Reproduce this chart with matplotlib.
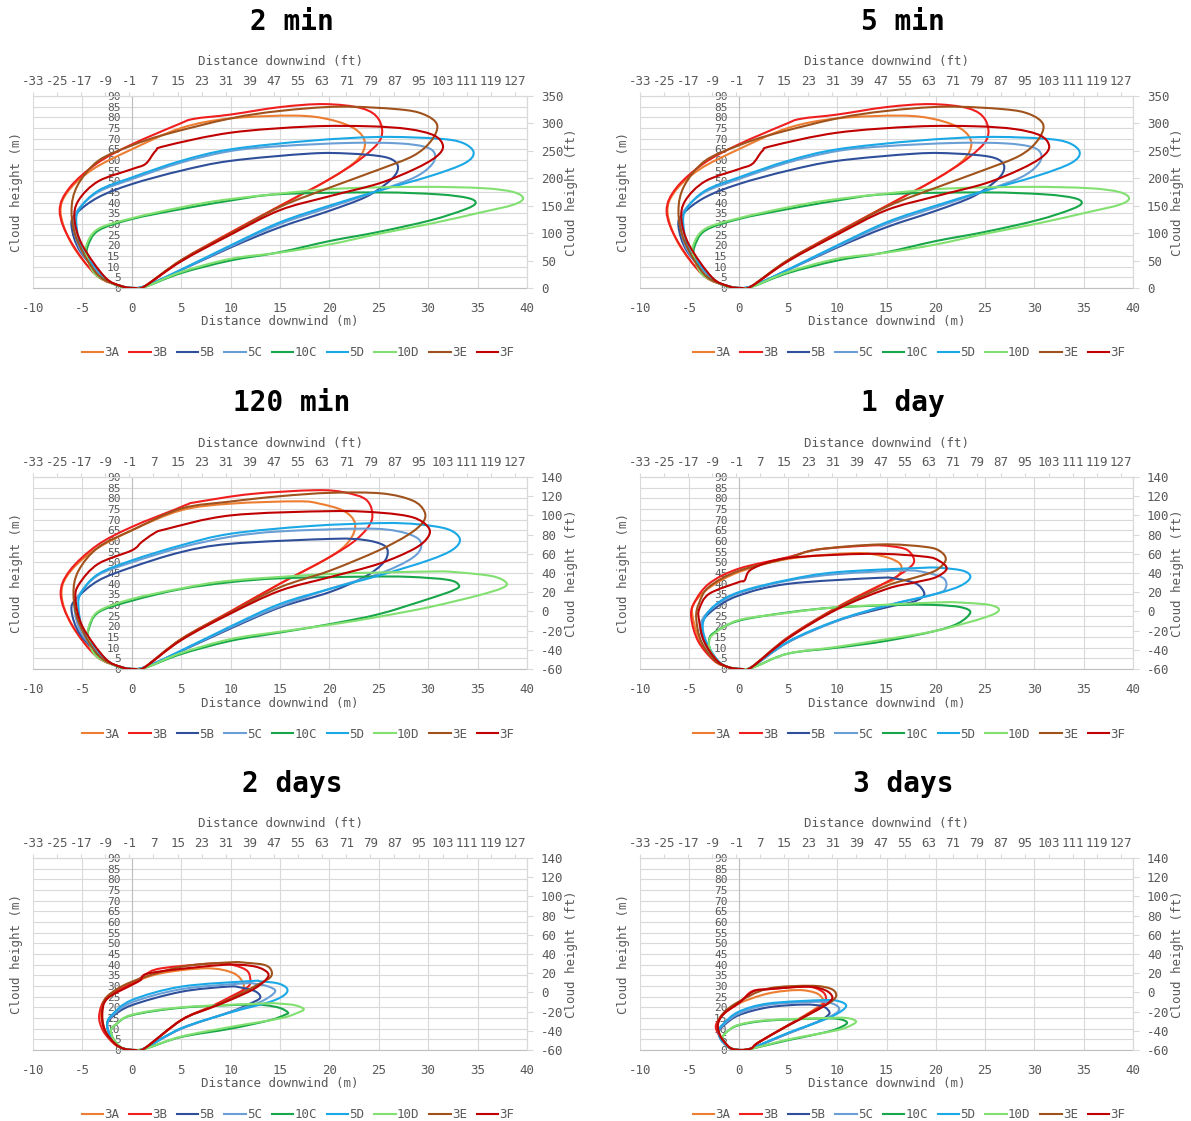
"""
Cloud outline (height vs distance downwind) for 9 release cases at 6 times.
Each case is a closed loop read off the reference; drawn as a smoothed path.
Output: out.png
"""

import matplotlib
matplotlib.use("Agg")
import matplotlib.pyplot as plt
import numpy as np
from matplotlib.lines import Line2D
from matplotlib.patches import PathPatch
from matplotlib.path import Path

plt.rcParams["axes.unicode_minus"] = False

FIG_W, FIG_H = 1191, 1121
FONT = ["DejaVu Sans Mono"]
GRAY = "#595959"
GRID = "#d9d9d9"

SERIES = ["3A", "3B", "5B", "5C", "10C", "5D", "10D", "3E", "3F"]
COLORS = ["#ed7d31", "#f01e1e", "#2f4f9a", "#6a9fd6", "#17a64a",
          "#1aa8e6", "#82e070", "#a0521c", "#c00000"]

X_TICKS_M = [-10, -5, 0, 5, 10, 15, 20, 25, 30, 35, 40]
Y_TICKS_M = [0, 5, 10, 15, 20, 25, 30, 35, 40, 45, 50, 55, 60, 65, 70, 75, 80, 85, 90]
# eje superior (ft) con escala propia, como en Excel: -33 a 131 sobre el ancho del grafico
FT_LIM = (-33, 131)
X_TICKS_FT = [-33, -25, -17, -9, -1, 7, 15, 23, 31, 39, 47, 55, 63, 71, 79, 87,
              95, 103, 111, 119, 127]
Y_TICKS_FT_A = [0, 50, 100, 150, 200, 250, 300, 350]
Y_TICKS_FT_B = [-60, -40, -20, 0, 20, 40, 60, 80, 100, 120, 140]

# ── contornos (x m, y m) ─────────────────────────────────────────────────────
LOOPS_2MIN = {
    "3A": [(0.3, 0), (1.3, 0.8), (5, 13), (10, 26), (15, 38.5), (20, 51), (22.8, 60), (23.6, 68),
           (22.6, 74.5), (20, 79), (16.5, 80.8), (10, 79.5), (5, 75), (0, 65), (-4, 55.5),
           (-6.5, 45), (-7.2, 35), (-6, 20), (-3.5, 6), (-1, 0.8)],
    "3B": [(0.3, 0), (1.3, 0.8), (5, 13), (10, 26), (15, 38.5), (20, 51), (23.3, 61), (25.2, 70),
           (25, 79), (23.3, 84.2), (19.5, 86.2), (15, 84.8), (10, 81.3), (6.3, 79.3), (4.7, 76.7),
           (0, 67.3), (-3.5, 58.5), (-6.3, 47), (-7.3, 36), (-6.2, 22), (-3.6, 6), (-1, 0.8)],
    "5B": [(0.3, 0), (1.3, 0.8), (3.4, 5), (10, 19), (15, 28.5), (20, 36.2), (23.6, 42.5),
           (25.7, 48.7), (26.8, 54), (26.8, 58.5), (25.5, 61.5), (22, 63), (18, 63), (10, 59.6),
           (5, 55), (0, 48.7), (-3.4, 42.5), (-5.6, 35), (-6.1, 29), (-5.2, 17), (-2.6, 4),
           (-1, 0.8)],
    "5C": [(0.3, 0), (1.3, 0.8), (3.4, 5), (10, 19.5), (15, 30), (20, 37.8), (25, 45.6),
           (28.6, 51.8), (30.3, 57.5), (30.7, 62.5), (29.8, 66), (27, 67.8), (22, 68), (15, 66.5),
           (10, 64.2), (5, 58.8), (0, 51), (-3.4, 45), (-5.4, 37), (-5.9, 30), (-5.1, 17),
           (-2.6, 4), (-1, 0.8)],
    "10C": [(0.3, 0), (1.5, 0.8), (5, 7), (10, 12.9), (15, 16.8), (20, 22), (25, 26.3),
            (30.3, 31.8), (33.7, 36.8), (34.8, 39.8), (34, 42.2), (31, 43.9), (25, 44.8),
            (15, 44), (10, 41), (5, 37), (0, 32.3), (-3.4, 26.9), (-4.5, 19), (-4.4, 14),
            (-3.6, 6.5), (-1.3, 1)],
    "5D": [(0.3, 0), (1.3, 0.8), (3.4, 5), (10, 20), (15, 30.8), (20, 38.6), (25, 45.6),
           (30.3, 52.6), (33.7, 58.5), (34.6, 63.5), (33.5, 68), (31, 70), (25, 70.8), (18, 69),
           (10, 65), (5, 59.6), (0, 51.8), (-3.4, 45.6), (-5.3, 37), (-5.6, 29.5), (-4.9, 17),
           (-2.5, 4), (-1, 0.8)],
    "10D": [(0.3, 0), (1.5, 0.8), (5, 7.5), (10, 13.7), (15, 16.6), (20, 20.4), (25, 25.4),
            (30.3, 30.2), (35.4, 35.5), (38.6, 39), (39.6, 42), (38.6, 45), (35.5, 46.8),
            (29, 47.4), (20, 46.3), (10, 41.7), (5, 37.8), (0, 32.7), (-3.4, 27.7), (-4.6, 20),
            (-4.5, 14), (-3.6, 6), (-1.3, 1)],
    "3E": [(0.3, 0), (1.3, 0.8), (5, 13), (10, 25.5), (15, 38), (20, 47), (25, 55.5), (28.5, 62),
           (30.3, 69), (30.9, 76.5), (29.5, 81.5), (26.9, 83.8), (21, 85), (15, 83), (10, 79.5),
           (3.4, 72), (0, 66.8), (-3.4, 59.6), (-5.5, 48), (-6.1, 36), (-5.5, 22), (-3.4, 6),
           (-1, 0.8)],
    "3F": [(0.3, 0), (1.3, 0.8), (5, 12.5), (10, 25), (15, 36.5), (20, 43), (25, 49), (28.6, 55.7),
           (30.8, 61.5), (31.5, 66.5), (30.6, 71.5), (28, 74.5), (24, 75.8), (18, 75.7),
           (10, 72.8), (3.4, 66.6), (2.4, 64.2), (1.4, 58.2), (0, 55.7), (-3.4, 50), (-5.4, 41),
           (-5.8, 32), (-5, 20), (-2.7, 5), (-1, 0.8)],
}

# el panel de 5 min se lee igual que el de 2 min
LOOPS_5MIN = LOOPS_2MIN

LOOPS_120MIN = {
    "3A": [(0.3, 0), (1.3, 0.8), (5, 14), (10, 27), (15, 40), (20, 52.4), (22, 60), (22.6, 68),
           (21.5, 74), (19, 77.5), (16.8, 78.6), (10, 77.5), (5, 74.4), (0, 65), (-4, 55),
           (-6.5, 44), (-7.1, 34), (-6, 20), (-3.5, 6), (-1, 0.8)],
    "3B": [(0.3, 0), (1.3, 0.8), (5, 14), (10, 27), (15, 40), (20, 52.4), (22.8, 61), (24.3, 70),
           (23.8, 79), (21.5, 82.8), (18.5, 83.8), (12, 82), (6.5, 78.2), (5.7, 77.3), (4.5, 75),
           (0, 66.6), (-3.5, 58), (-6.3, 46), (-7.2, 35), (-6.1, 21), (-3.6, 6), (-1, 0.8)],
    "5B": [(0.3, 0), (1.3, 0.8), (3.4, 5), (10, 19), (15, 28.9), (20, 36), (23.5, 43), (25.3, 49),
           (25.9, 54), (25.5, 58), (23.5, 60.5), (20.2, 61), (10, 58.7), (5, 54.8), (0, 47.7),
           (-3.4, 41.4), (-5.6, 33), (-6.1, 27.3), (-5.2, 16), (-2.6, 4), (-1, 0.8)],
    "5C": [(0.3, 0), (1.3, 0.8), (3.4, 5), (10, 19.5), (15, 29.5), (20, 37.5), (25, 44.6),
           (28, 50.9), (29.2, 56), (29, 61), (27, 64.5), (23.6, 65.8), (15, 64.5), (10, 62),
           (5, 57), (0, 50), (-3.4, 44), (-5.3, 35), (-5.8, 28.5), (-5, 16), (-2.5, 4), (-1, 0.8)],
    "10C": [(0.3, 0), (1.5, 0.8), (5, 7), (10, 13.2), (15, 17.1), (20, 21), (25, 25.7), (30, 32.8),
            (32.6, 37), (33.1, 39.3), (32, 41.8), (28, 43.2), (23.6, 43.3), (15, 42.5),
            (10, 40.7), (5, 37.5), (0, 32), (-3.4, 26.5), (-4.4, 18), (-4.3, 13.5), (-3.5, 6),
            (-1.3, 1)],
    "5D": [(0.3, 0), (1.3, 0.8), (3.4, 5), (10, 20), (15, 30.5), (20, 37.5), (25, 43.8), (30, 50.9),
           (32.5, 56), (33.2, 61), (32, 65.5), (29, 67.8), (25.3, 68.4), (18, 67), (10, 63.4),
           (5, 58), (0, 50.9), (-3.4, 44.5), (-5.1, 36), (-5.4, 28.9), (-4.8, 17), (-2.5, 4),
           (-1, 0.8)],
    "10D": [(0.3, 0), (1.5, 0.8), (5, 7.5), (10, 14), (15, 17.5), (20, 20.7), (25, 24.5),
            (30, 28.9), (35, 34.4), (37.5, 38), (37.9, 40.5), (36.5, 43.5), (33, 45.3),
            (30.3, 45.7), (20, 44.5), (10, 41.4), (5, 37.8), (0, 32.8), (-3.4, 27), (-4.4, 19),
            (-4.3, 13), (-3.6, 6), (-1.3, 1)],
    "3E": [(0.3, 0), (1.3, 0.8), (5, 14), (10, 26.5), (15, 38.3), (20, 46), (25, 55.6), (28, 63),
           (29.5, 69), (29.6, 74), (28.4, 79), (25.3, 82.3), (20.2, 82.6), (15, 81), (10, 78.5),
           (5, 75.2), (0, 65), (-3.4, 57), (-5.4, 46), (-5.9, 35), (-5.3, 21), (-3.3, 6),
           (-1, 0.8)],
    "3F": [(0.3, 0), (1.3, 0.8), (5, 13.5), (10, 26), (15, 36.7), (20, 43), (25, 49.3),
           (28.6, 56.4), (30, 62), (30, 66.5), (28.5, 71), (25.3, 73.2), (20.2, 74), (10, 72),
           (3.4, 65.5), (2.2, 63.4), (1, 59.5), (0, 55.6), (-3.4, 49.3), (-5.3, 40), (-5.7, 33),
           (-5, 20), (-2.7, 5), (-1, 0.8)],
}

LOOPS_1DAY = {
    "3A": [(0.3, 0), (1.3, 0.8), (5, 14.8), (10, 28.9), (14, 38.5), (15.8, 42), (16.5, 46.5),
           (16.2, 50), (14.5, 53), (11.7, 54.3), (5, 51.6), (0, 45.4), (-3, 38), (-4.5, 31),
           (-4.7, 25.7), (-4, 14), (-2.5, 4), (-1, 0.8)],
    "3B": [(0.3, 0), (1.3, 0.8), (5, 14.8), (10, 28.9), (15, 40.7), (17.2, 47), (17.8, 51),
           (17.1, 55.8), (15.5, 57.5), (13.4, 57.9), (8, 56), (5, 52.4), (0, 47), (-3, 40),
           (-4.5, 31), (-4.8, 24), (-4.1, 13), (-2.5, 4), (-1, 0.8)],
    "5B": [(0.3, 0), (1.3, 0.8), (5, 12.5), (10, 22.6), (15, 28.9), (17.5, 31.2), (18.6, 33.5),
           (18.8, 36), (18, 40), (16, 42.3), (14.1, 42.7), (5, 39.9), (0, 34.4), (-2.5, 28),
           (-3.8, 21), (-3.5, 13), (-2.2, 4), (-1, 0.8)],
    "5C": [(0.3, 0), (1.3, 0.8), (5, 12.5), (10, 22.5), (15, 29.7), (20, 35.2), (21, 38),
           (20.8, 42.5), (19, 45.2), (16.8, 46.2), (10, 44.5), (5, 41.4), (0, 35.5), (-2.5, 29),
           (-3.8, 21.8), (-3.4, 13), (-2.2, 4), (-1, 0.8)],
    "10C": [(0.3, 0), (1.5, 0.8), (5, 7.2), (10, 10), (15, 13.2), (20, 17.9), (22.3, 21.5),
            (23.5, 26.5), (22.5, 29), (20, 30), (16.8, 30.1), (10, 28.9), (5, 26.5), (0, 22.6),
            (-2.5, 17), (-3, 13.2), (-2.8, 8), (-2, 3), (-1, 0.8)],
    "5D": [(0.3, 0), (1.3, 0.8), (5, 12.8), (10, 22.8), (15, 29.7), (20, 35.2), (22.5, 39),
           (23.5, 43), (22.8, 46), (20.5, 47.4), (18.5, 47.4), (10, 45.4), (5, 41.8), (0, 36),
           (-2.5, 29.5), (-3.6, 21.8), (-3.3, 13), (-2.1, 4), (-1, 0.8)],
    "10D": [(0.3, 0), (1.5, 0.8), (5, 7.2), (10, 10.4), (15, 14), (20, 17.9), (25, 24.2),
            (26.4, 27.6), (25.5, 30), (23, 31), (20.2, 31.2), (10, 28.9), (5, 26.3), (0, 22.9),
            (-2.5, 16.5), (-3, 12.4), (-2.8, 8), (-2, 3), (-1, 0.8)],
    "3E": [(0.3, 0), (1.3, 0.8), (5, 14.5), (10, 28.5), (15, 39), (18, 43), (20, 46.2), (21, 51),
           (20.5, 55), (19, 57.2), (14.4, 58.4), (8, 56), (5, 52), (0, 46), (-3, 38.5), (-4, 31),
           (-4.3, 24), (-3.8, 13), (-2.4, 4), (-1, 0.8)],
    "3F": [(0.3, 0), (1.3, 0.8), (5, 14.3), (10, 28), (15, 37.5), (18, 40.7), (20, 43),
           (21.1, 47), (20.3, 50.8), (18.8, 52.7), (13.4, 54), (5, 52), (1.4, 47), (0.6, 41.5),
           (0, 40.7), (-3, 35.2), (-4, 28), (-4, 22.6), (-3.5, 13), (-2.2, 4), (-1, 0.8)],
}

LOOPS_2DAYS = {
    "3A": [(0.3, 0), (1.3, 0.8), (5, 14), (8, 20.3), (10, 24.5), (11.1, 27.5), (11.3, 31),
           (10.3, 36), (7.6, 38.3), (3, 36), (0, 31.2), (-2.5, 24), (-3.1, 17.9), (-2.8, 10),
           (-1.8, 3), (-0.8, 0.6)],
    "3B": [(0.3, 0), (1.3, 0.8), (5, 14), (8, 20.3), (10, 25), (11.6, 29), (12, 32), (11.7, 37),
           (10.3, 39.8), (8.6, 40.7), (3, 38.3), (1.4, 35.5), (1, 34.2), (0, 31.2), (-2.5, 25),
           (-3.3, 16.3), (-2.9, 9), (-1.8, 3), (-0.8, 0.6)],
    "5B": [(0.3, 0), (1.3, 0.8), (5, 10), (10, 17.9), (12, 21.8), (13, 24.5), (12.5, 27.5),
           (11, 29.3), (9.7, 29.7), (5, 27.3), (0, 21), (-2, 15.5), (-2.5, 11.6), (-2.2, 7),
           (-1.5, 2.5), (-0.8, 0.6)],
    "5C": [(0.3, 0), (1.3, 0.8), (5, 10), (10, 17.8), (13, 22.5), (14.5, 27.3), (13.8, 29.8),
           (12.5, 31), (11.3, 31.2), (5, 28.5), (0, 22.3), (-2, 16), (-2.5, 12), (-2.2, 7),
           (-1.5, 2.5), (-0.8, 0.6)],
    "10C": [(0.3, 0), (1.5, 0.8), (5, 6.1), (10, 10), (14, 14), (15.5, 16.5), (15.8, 17.6),
            (15, 19.7), (13.5, 21), (11.7, 21.3), (5, 19.8), (0, 16.3), (-1.6, 12), (-2.1, 9.3),
            (-1.9, 5.5), (-1.3, 2), (-0.8, 0.6)],
    "5D": [(0.3, 0), (1.3, 0.8), (5, 10.2), (10, 17.6), (14, 22.6), (15.5, 26), (15.7, 28.9),
           (14.8, 31.2), (13, 32.2), (12, 32.3), (5, 29.7), (0, 23.4), (-2, 16.5), (-2.5, 12.4),
           (-2.2, 7), (-1.5, 2.5), (-0.8, 0.6)],
    "10D": [(0.3, 0), (1.5, 0.8), (5, 6.3), (10, 10.8), (15, 14.8), (16.8, 17.5), (17.4, 19.2),
            (16.5, 21), (15, 21.7), (13.4, 21.8), (5, 20), (0, 16.5), (-1.6, 12), (-2.1, 9.3),
            (-1.9, 5.5), (-1.3, 2), (-0.8, 0.6)],
    "3E": [(0.3, 0), (1.3, 0.8), (5, 14), (8, 20), (10, 24), (12.5, 30), (14, 34), (14.1, 37.5),
           (13.4, 39.9), (11.5, 40.9), (10, 41.1), (5, 39), (0, 32), (-2.5, 25), (-3, 17.9),
           (-2.7, 9), (-1.7, 3), (-0.8, 0.6)],
    "3F": [(0.3, 0), (1.3, 0.8), (5, 14), (8, 19.8), (10, 23.5), (12.5, 29), (13.8, 34.4),
           (13.4, 37.5), (12, 39.5), (9.3, 39.9), (4, 37.5), (1.4, 35.5), (0.9, 32.8), (0, 30.5),
           (-2.5, 24), (-3, 16.3), (-2.7, 9), (-1.7, 3), (-0.8, 0.6)],
}

LOOPS_3DAYS = {
    "3A": [(0.3, 0), (1.3, 0.8), (2, 3.5), (5, 11.6), (7.5, 18.5), (8.5, 22), (8.5, 24.2),
           (7.8, 26.8), (6, 28.1), (3, 26.5), (0, 21.8), (-1.5, 17), (-2.1, 13.2), (-2, 8),
           (-1.4, 3), (-0.7, 0.6)],
    "3B": [(0.3, 0), (1.3, 0.8), (2, 3.5), (5, 11.6), (8, 19.5), (8.8, 23), (8.7, 26.5),
           (7.8, 29), (6.6, 29.7), (3, 28.5), (1.4, 27.6), (0.5, 24), (0, 21.8), (-1.5, 17),
           (-2.3, 11.6), (-2, 7), (-1.4, 3), (-0.7, 0.6)],
    "5B": [(0.3, 0), (1.3, 0.8), (5, 7.7), (8, 13.2), (9, 16), (9.2, 17.9), (8.5, 20.5),
           (6.6, 21.3), (3, 20), (0, 16.3), (-1.5, 11.5), (-2, 8.5), (-1.8, 5), (-1.2, 2),
           (-0.7, 0.6)],
    "5C": [(0.3, 0), (1.3, 0.8), (5, 7.8), (8, 13), (9.8, 17), (10.2, 19.5), (9.5, 21.8),
           (8, 22.6), (3, 21.2), (0, 17), (-1.5, 12), (-2, 8.8), (-1.8, 5), (-1.2, 2),
           (-0.7, 0.6)],
    "10C": [(0.3, 0), (1.5, 0.8), (5, 4.6), (9, 8.5), (10.5, 11), (11, 12.9), (10.3, 14.4),
            (8.7, 14.8), (3, 13.8), (0, 11.6), (-1.2, 8.5), (-1.6, 6.1), (-1.4, 3.5), (-1, 1.5),
            (-0.7, 0.6)],
    "5D": [(0.3, 0), (1.3, 0.8), (5, 8), (9, 14.8), (10.5, 18.5), (10.9, 21), (10.2, 22.8),
           (8.7, 23.4), (3, 21.8), (0, 17.9), (-1.5, 12.5), (-2, 9.3), (-1.8, 5), (-1.2, 2),
           (-0.7, 0.6)],
    "10D": [(0.3, 0), (1.5, 0.8), (5, 4.9), (10, 9.3), (11.5, 11.8), (11.9, 13.5), (11.2, 14.8),
            (9.7, 15.1), (3, 14), (0, 11.8), (-1.2, 8.5), (-1.6, 6), (-1.4, 3.5), (-1, 1.5),
            (-0.7, 0.6)],
    "3E": [(0.3, 0), (1.3, 0.8), (2, 3.5), (5, 11.4), (8, 19), (9.5, 23), (9.9, 26), (9.3, 28.8),
           (7.3, 30.1), (3, 28.8), (0, 22.6), (-1.5, 17.5), (-2.1, 12.4), (-1.9, 7), (-1.3, 3),
           (-0.7, 0.6)],
    "3F": [(0.3, 0), (1.3, 0.8), (2, 3.5), (5, 11.4), (8, 18.8), (9.2, 22.5), (9.5, 25),
           (8.8, 28), (7, 29.7), (3, 28.5), (1.5, 27.5), (0, 22), (-1.5, 17), (-2.1, 12),
           (-1.9, 7), (-1.3, 3), (-0.7, 0.6)],
}

# (titulo, contornos, rango eje ft derecho, ticks ft derecho)
PANELS = [
    ("2 min", LOOPS_2MIN, (0, 350), Y_TICKS_FT_A),
    ("5 min", LOOPS_5MIN, (0, 350), Y_TICKS_FT_A),
    ("120 min", LOOPS_120MIN, (-60, 140), Y_TICKS_FT_B),
    ("1 day", LOOPS_1DAY, (-60, 140), Y_TICKS_FT_B),
    ("2 days", LOOPS_2DAYS, (-60, 140), Y_TICKS_FT_B),
    ("3 days", LOOPS_3DAYS, (-60, 140), Y_TICKS_FT_B),
]

# layout en pixeles de la figura
COL_X = [(33, 527), (640, 1133)]
COL_CENTER = [292, 903]
ROW_DY = 381
X_LIM = (-10, 40)


def px(x, y):
    return x / FIG_W, 1 - y / FIG_H


def m_a_ft_eje(m):
    # posicion del eje superior: mismo ancho de grafico, rango FT_LIM
    return FT_LIM[0] + (np.asarray(m) - X_LIM[0]) * (FT_LIM[1] - FT_LIM[0]) / (X_LIM[1] - X_LIM[0])


def ft_eje_a_m(f):
    return X_LIM[0] + (np.asarray(f) - FT_LIM[0]) * (X_LIM[1] - X_LIM[0]) / (FT_LIM[1] - FT_LIM[0])


def trazo_suave(pts):
    """Contorno cerrado suavizado (Catmull-Rom -> Bezier cubico)."""
    p = np.asarray(pts, float)
    n = len(p)
    verts, codes = [p[0]], [Path.MOVETO]
    for i in range(n):
        p0, p1, p2, p3 = p[i - 1], p[i], p[(i + 1) % n], p[(i + 2) % n]
        verts += [p1 + (p2 - p0) / 6, p2 - (p3 - p1) / 6, p2]
        codes += [Path.CURVE4] * 3
    return Path(verts, codes)


def dibujar_panel(fig, idx, titulo, loops, ft_lim, ft_ticks):
    col, row = idx % 2, idx // 2
    x0, x1 = COL_X[col]
    dy = ROW_DY * row
    y_top, y_bot = 96 + dy, 288 + dy
    cx = COL_CENTER[col]

    l, b = px(x0, y_bot)
    ax = fig.add_axes([l, b, (x1 - x0) / FIG_W, (y_bot - y_top) / FIG_H])
    ax.set_xlim(*X_LIM)
    ax.set_ylim(0, 90)
    ax.set_xticks(X_TICKS_M)
    ax.set_yticks(Y_TICKS_M)
    ax.grid(True, color=GRID, lw=0.8)
    ax.set_axisbelow(True)
    ax.spines["left"].set_position(("data", 0))
    ax.spines["left"].set_color("#bfbfbf")
    ax.spines["bottom"].set_color("#bfbfbf")
    ax.spines["top"].set_color(GRID)
    ax.spines["right"].set_color(GRID)
    ax.tick_params(axis="x", length=0, pad=10, labelsize=9, labelcolor=GRAY)
    ax.tick_params(axis="y", length=0, pad=8, labelsize=8, labelcolor=GRAY)
    for lab in ax.get_xticklabels() + ax.get_yticklabels():
        lab.set_family(FONT)

    # eje superior en pies
    sec = ax.secondary_xaxis("top", functions=(m_a_ft_eje, ft_eje_a_m))
    sec.set_xticks(X_TICKS_FT)
    sec.tick_params(direction="out", length=3, color=GRID, labelsize=9,
                    labelcolor=GRAY, pad=3)
    sec.spines["top"].set_color(GRID)
    for lab in sec.get_xticklabels():
        lab.set_family(FONT)

    # eje derecho en pies
    tw = ax.twinx()
    tw.set_ylim(*ft_lim)
    tw.set_yticks(ft_ticks)
    for s in ["left", "top", "bottom"]:
        tw.spines[s].set_visible(False)
    tw.spines["right"].set_color(GRID)
    tw.tick_params(axis="y", direction="out", length=4, color=GRID, labelsize=9,
                   labelcolor=GRAY, pad=6)
    for lab in tw.get_yticklabels():
        lab.set_family(FONT)

    for nombre, color in zip(SERIES, COLORS):
        ax.add_patch(PathPatch(trazo_suave(loops[nombre]), fill=False,
                               edgecolor=color, lw=1.5, zorder=3))

    txt = dict(family=FONT, color=GRAY, fontsize=9, ha="center", va="center")
    fig.text(*px(cx, 22 + dy), titulo, family=FONT, fontsize=20, fontweight="bold",
             ha="center", va="center", color="black")
    fig.text(*px((x0 + x1) / 2, 62 + dy), "Distance downwind (ft)", **txt)
    fig.text(*px((x0 + x1) / 2, 322 + dy), "Distance downwind (m)", **txt)
    fig.text(*px(x0 - 16, 192 + dy), "Cloud height (m)", rotation=90, **txt)
    fig.text(*px(x1 + 45, 192 + dy), "Cloud height (ft)", rotation=90, **txt)

    handles = [Line2D([], [], color=c, lw=1.5) for c in COLORS]
    fig.legend(handles, SERIES, loc="center", bbox_to_anchor=px(cx + 6, 353 + dy),
               ncol=9, frameon=False, prop=dict(family=FONT, size=9),
               labelcolor=GRAY, handlelength=1.7, handletextpad=0.1,
               columnspacing=0.8)


def main():
    fig = plt.figure(figsize=(FIG_W / 100, FIG_H / 100), dpi=100)
    fig.patch.set_facecolor("white")
    for i, (titulo, loops, ft_lim, ft_ticks) in enumerate(PANELS):
        dibujar_panel(fig, i, titulo, loops, ft_lim, ft_ticks)
    fig.savefig("out.png", dpi=100)
    plt.close(fig)


main()
